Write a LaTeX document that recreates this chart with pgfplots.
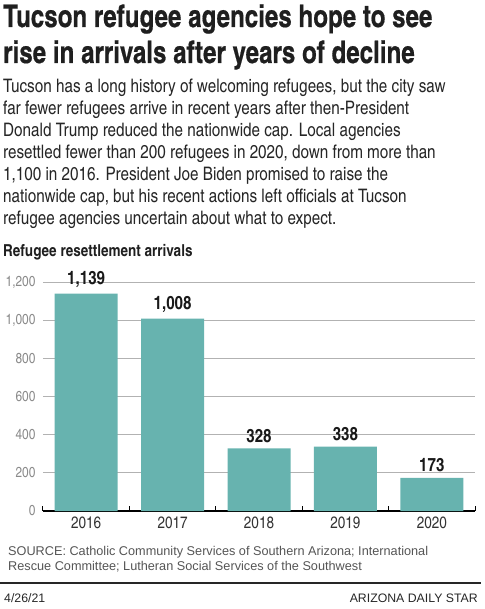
\documentclass[border=0pt]{standalone}
\usepackage{pgfplots}
\pgfplotsset{compat=1.18}
\usepackage{fontspec}
\setmainfont{Liberation Sans}
\newfontfamily\cn{texgyreheroscn}[Extension=.otf,UprightFont=*-regular,BoldFont=*-bold]
\newfontfamily\hd{texgyreheroscn}[Extension=.otf,UprightFont=*-bold,FakeStretch=0.95,FakeBold=0.5]
\definecolor{barc}{HTML}{67B3AF}
\definecolor{tickgray}{HTML}{8A8A8A}
\definecolor{srcgray}{HTML}{555555}
\begin{document}
\begin{tikzpicture}
\useasboundingbox (0pt,0pt) rectangle (484pt,-609pt);
% headline
\node[anchor=base west, inner sep=0pt, text=black!88, font=\hd\fontsize{31}{31}\selectfont] at (3pt,-27pt) {Tucson refugee agencies hope to see};
\node[anchor=base west, inner sep=0pt, text=black!88, font=\hd\fontsize{31}{31}\selectfont] at (3pt,-63pt) {rise in arrivals after years of decline};
% body
\foreach \t [count=\i from 0] in {%
 {Tucson has a long history of welcoming refugees, but the city saw},
 {far fewer refugees arrive in recent years after then-President},
 {Donald Trump reduced the nationwide cap. Local agencies},
 {resettled fewer than 200 refugees in 2020, down from more than},
 {1,100 in 2016. President Joe Biden promised to raise the},
 {nationwide cap, but his recent actions left officials at Tucson},
 {refugee agencies uncertain about what to expect.}}{
 \node[anchor=base west, inner sep=0pt, text=black!85, font=\cn\fontsize{18.6}{18.6}\selectfont] at (3pt,{-93pt-22pt*\i}) {\t};
}
\node[anchor=base west, inner sep=0pt, text=black!88, font=\cn\bfseries\fontsize{16.5}{16.5}\selectfont] at (3pt,-256pt) {Refugee resettlement arrivals};
\begin{axis}[
 at={(43pt,-511pt)}, anchor=south west,
 scale only axis, width=432pt, height=229pt,
 xmin=-0.5, xmax=4.5, ymin=0, ymax=1200,
 clip=false,
 axis x line*=bottom, axis y line*=left,
 x axis line style={-, line width=1.2pt, black},
 y axis line style={draw=none},
 ybar, bar width=63pt,
 xtick={0,1,2,3,4}, xticklabels={2016,2017,2018,2019,2020},
 major x tick style={draw=none},
 minor xtick={-0.5,0.5,1.5,2.5,3.5,4.5},
 minor x tick style={black, line width=1pt},
 minor tick length=5pt, major tick length=0pt,
 tick align=inside,
 ytick={0,200,400,600,800,1000,1200},
 ymajorgrids, grid style={black!30, line width=0.8pt},
 major y tick style={draw=none},
 /pgf/number format/1000 sep={,},
 /pgf/number format/assume math mode=true,
 yticklabel style={font=\cn\fontsize{14.5}{14.5}\selectfont, text=tickgray, xshift=-4pt},
 xticklabel style={font=\cn\fontsize{16.5}{16.5}\selectfont, text=black!80, yshift=-2pt},
 nodes near coords,
 every node near coord/.append style={font=\cn\bfseries\fontsize{18.5}{18.5}\selectfont, text=black!90, yshift=2.5pt},
]
\addplot[draw=none, fill=barc] coordinates {(0,1139) (1,1008) (2,328) (3,338) (4,173)};
\end{axis}
% source
\node[anchor=base west, inner sep=0pt, text=srcgray, font=\fontsize{12.7}{12.7}\selectfont] at (8pt,-555pt) {SOURCE: Catholic Community Services of Southern Arizona; International};
\node[anchor=base west, inner sep=0pt, text=srcgray, font=\fontsize{12.7}{12.7}\selectfont] at (8pt,-570pt) {Rescue Committee; Lutheran Social Services of the Southwest};
\draw[line width=1.2pt, black!85] (0pt,-583pt) -- (481pt,-583pt);
\node[anchor=base west, inner sep=0pt, text=black!85, font=\fontsize{12.3}{12.3}\selectfont] at (4pt,-602pt) {4/26/21};
\node[anchor=base east, inner sep=0pt, text=black!85, font=\fontsize{12.3}{12.3}\selectfont] at (478pt,-602pt) {ARIZONA DAILY STAR};
\end{tikzpicture}
\end{document}
